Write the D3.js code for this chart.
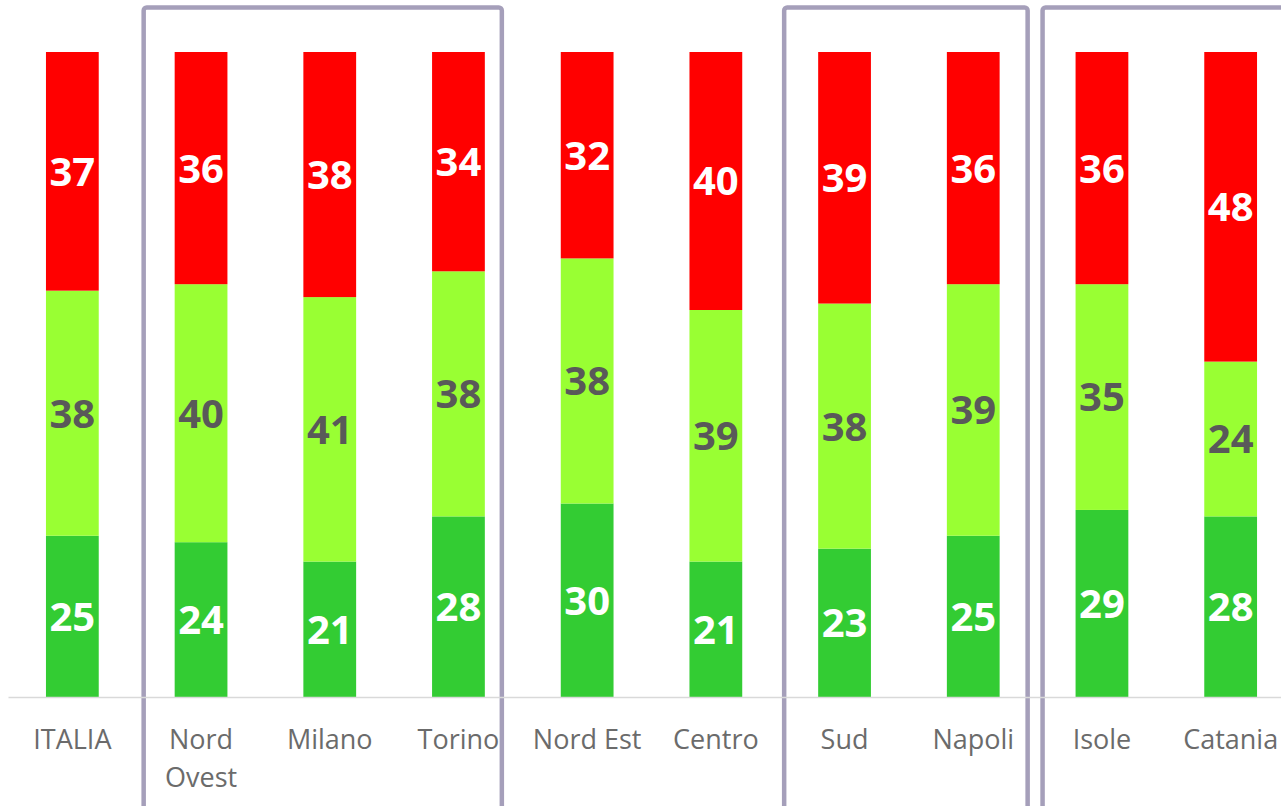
<!DOCTYPE html>
<html>
<head>
<meta charset="utf-8">
<script src="https://cdn.jsdelivr.net/npm/d3@7"></script>
<style>
  body { margin: 0; background: #fff; overflow: hidden; }
  svg { display: block; }
</style>
</head>
<body>
<div id="chart"></div>
<script>
// chart data
var categories = ["ITALIA", "Nord Ovest", "Milano", "Torino", "Nord Est", "Centro", "Sud", "Napoli", "Isole", "Catania"];
var seriesLow  = [25, 24, 21, 28, 30, 21, 23, 25, 29, 28];   // dark green
var seriesMid  = [38, 40, 41, 38, 38, 39, 38, 39, 35, 24];   // light green
var seriesHigh = [37, 36, 38, 34, 32, 40, 39, 36, 36, 48];   // red
var seriesNames = ["low", "mid", "high"];
// groups framed by a box: [first category, last category]
var groups = [["Nord Ovest", "Torino"], ["Sud", "Napoli"], ["Isole", "Catania"]];

var w = 1281, h = 806;
var colors = { low: "#33cc33", mid: "#99ff33", high: "#ff0000" };
var labelColors = { low: "#ffffff", mid: "#595959", high: "#ffffff" };
// space between box frame and the outer bars of each group [left, right]
var boxPad = [[31, 17], [34, 28], [33, 30]];

var rows = categories.map(function(c, i) {
  return { cat: c, low: seriesLow[i], mid: seriesMid[i], high: seriesHigh[i] };
});
var stacked = d3.stack().keys(seriesNames)(rows);

var svg = d3.select("#chart").append("svg")
  .attr("width", w)
  .attr("height", h);

// scales
var x = d3.scaleBand().domain(categories).range([8, 1295]).paddingInner(0.59).paddingOuter(0.295);
var y = d3.scaleLinear().domain([0, 100]).range([697, 52]);

// boxes around groups
svg.append("g").selectAll("rect")
  .data(groups)
  .enter().append("rect")
  .attr("x", function(d, i) { return x(d[0]) - boxPad[i][0]; })
  .attr("y", 7.5)
  .attr("width", function(d, i) { return x(d[1]) + x.bandwidth() + boxPad[i][1] - (x(d[0]) - boxPad[i][0]); })
  .attr("height", 820)
  .attr("rx", 3)
  .attr("fill", "none")
  .attr("stroke", "#a59fba")
  .attr("stroke-width", 4.5);

// bars
var layers = svg.append("g").selectAll("g")
  .data(stacked)
  .enter().append("g")
  .attr("fill", function(d) { return colors[d.key]; });

layers.selectAll("rect")
  .data(function(d) { return d; })
  .enter().append("rect")
  .attr("x", function(d) { return x(d.data.cat); })
  .attr("y", function(d) { return y(d[1]); })
  .attr("width", x.bandwidth())
  .attr("height", function(d) { return y(d[0]) - y(d[1]); });

// value labels
var labels = svg.append("g").selectAll("g")
  .data(stacked)
  .enter().append("g")
  .attr("fill", function(d) { return labelColors[d.key]; });

labels.selectAll("text")
  .data(function(d) { return d; })
  .enter().append("text")
  .attr("x", function(d) { return x(d.data.cat) + x.bandwidth() / 2; })
  .attr("y", function(d) { return (y(d[0]) + y(d[1])) / 2; })
  .attr("dy", "0.36em")
  .attr("text-anchor", "middle")
  .style("font-family", "'Open Sans', sans-serif")
  .style("font-weight", "bold")
  .style("font-size", "40px")
  .text(function(d) { return d[1] - d[0]; });

// x axis
var xAxis = svg.append("g")
  .attr("transform", "translate(0,697)")
  .call(d3.axisBottom(x).tickSize(0).tickPadding(0));
xAxis.select(".domain").attr("stroke", "#d9d9d9").attr("stroke-width", 1.5);
xAxis.selectAll(".tick text").remove();
xAxis.selectAll(".tick").append("text")
  .attr("text-anchor", "middle")
  .attr("fill", "#6b6b6b")
  .style("font-family", "'Open Sans', sans-serif")
  .style("font-size", "27px")
  .each(function(d) {
    var words = d === "Nord Ovest" ? ["Nord", "Ovest"] : [d];
    var t = d3.select(this);
    words.forEach(function(word, i) {
      t.append("tspan").attr("x", 0).attr("y", 52 + i * 38).text(word);
    });
  });
</script>
</body>
</html>
